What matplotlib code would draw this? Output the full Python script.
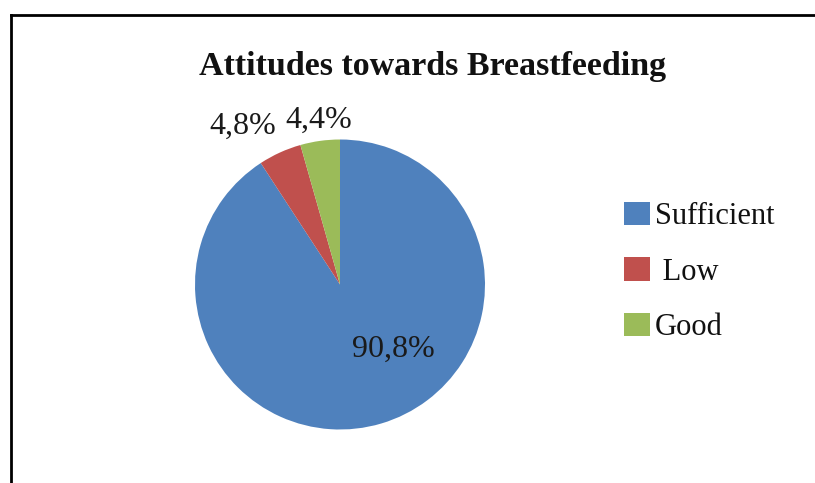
import matplotlib
matplotlib.use("Agg")
import matplotlib.pyplot as plt
from matplotlib.patches import Patch
from matplotlib.lines import Line2D

title = "Attitudes towards Breastfeeding"
categories = ["Sufficient", "Low", "Good"]
values = [90.8, 4.8, 4.4]
value_labels = ["90,8%", "4,8%", "4,4%"]
legend_labels = ["Sufficient", " Low", "Good"]
colors = ["#4F81BD", "#C0504D", "#9BBB59"]

W, H = 815, 483
fig = plt.figure(figsize=(W / 100, H / 100), dpi=100)
fig.patch.set_facecolor("white")

serif = ["Liberation Serif", "DejaVu Serif"]

# frame (chart border extending beyond the crop)
fig.add_artist(Line2D([11 / W, 11 / W], [0, 1 - 15 / H], color="black", lw=2,
                      transform=fig.transFigure))
fig.add_artist(Line2D([11 / W, 1.0], [1 - 15 / H, 1 - 15 / H], color="black", lw=2,
                      transform=fig.transFigure))

# pie axes: centre (340, 284), radius 145 px
cx, cy, r = 340, 284.5, 145
ax = fig.add_axes([(cx - r) / W, (H - cy - r) / H, 2 * r / W, 2 * r / H])
wedges, _ = ax.pie(values, colors=colors, startangle=90, counterclock=False,
                   radius=1.0, wedgeprops=dict(linewidth=0))
ax.set_xlim(-1, 1)
ax.set_ylim(-1, 1)
ax.set_aspect("equal")
ax.axis("off")

# data labels (positions in pie data coords)
label_pos = {"90,8%": (0.366, -0.445), "4,8%": (-0.67, 1.09), "4,4%": (-0.145, 1.13)}
for lab in value_labels:
    x, y = label_pos[lab]
    ax.text(x, y, lab, ha="center", va="center", fontsize=23, family=serif,
            color="#1a1a1a", clip_on=False)

fig.text(433 / W, 1 - 66 / H, title, ha="center", va="center", fontsize=24.5,
         fontweight="bold", family=serif, color="#111111")

# legend
handles = [Patch(facecolor=c, edgecolor="none") for c in colors]
leg = fig.legend(handles, legend_labels, loc="center left",
                 bbox_to_anchor=(624 / W, 1 - 272 / H), frameon=False,
                 prop=dict(family=serif, size=22), handlelength=0.85,
                 handleheight=0.8, handletextpad=0.15, labelspacing=0.85,
                 borderaxespad=0, borderpad=0)
for t in leg.get_texts():
    t.set_color("#111111")

fig.savefig("out.png", dpi=100, facecolor="white")
